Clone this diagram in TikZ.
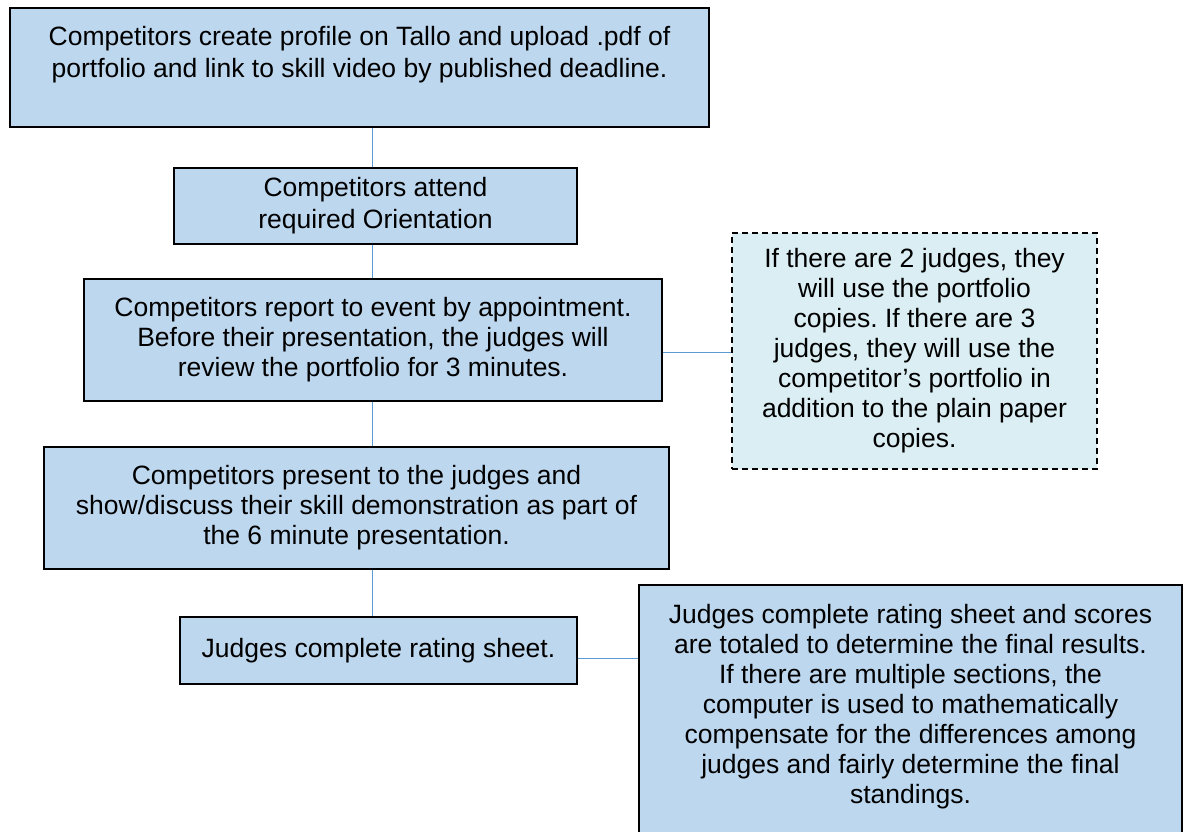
\documentclass[tikz,border=0pt]{standalone}
\usepackage{fontspec}
\setmainfont{Liberation Sans}
\frenchspacing
\definecolor{boxblue}{HTML}{BDD7EE}
\definecolor{noteblue}{HTML}{DAEEF3}
\definecolor{linkblue}{HTML}{5B9BD5}
\begin{document}
\begin{tikzpicture}
    [x=1pt,y=-1pt,
     stepbox/.style={shape=rectangle,draw=black,line width=1.3pt,fill=boxblue,align=center,inner sep=0pt,font=\fontsize{26.5}{30}\selectfont},
     notebox/.style={stepbox,fill=noteblue,dash pattern=on 6pt off 4pt},
     link/.style={draw=linkblue,line width=1pt}]
    \useasboundingbox (0,0) rectangle (1190,831);
    \node [stepbox,minimum width=699,minimum height=119,font=\fontsize{26.5}{32}\selectfont] (profile) at (359.5,67.5)
      {Competitors create profile on Tallo and upload .pdf of\\portfolio and link to skill video by published deadline.\\\mbox{}};
    \node [stepbox,minimum width=403,minimum height=76,font=\fontsize{26.5}{32}\selectfont] (orient) at (375.5,206)
      {Competitors attend\\required Orientation};
    \node [stepbox,minimum width=578,minimum height=122] (report) at (373,340)
      {Competitors report to event by appointment.\\Before their presentation, the judges will\\review the portfolio for 3 minutes.};
    \node [stepbox,minimum width=625,minimum height=122] (present) at (356.5,508)
      {Competitors present to the judges and\\show/discuss their skill demonstration as part of\\the 6 minute presentation.};
    \node [stepbox,minimum width=397,minimum height=67] (rating) at (378.5,650.5)
      {Judges complete rating sheet.};
    \node [notebox,minimum width=365,minimum height=236] (judgesnote) at (914.5,351)
      {If there are 2 judges, they\\will use the portfolio\\copies. If there are 3\\judges, they will use the\\competitor’s portfolio in\\addition to the plain paper\\copies.};
    \node [stepbox,minimum width=543,minimum height=255] (results) at (910.5,712.5)
      {Judges complete rating sheet and scores\\are totaled to determine the final results.\\If there are multiple sections, the\\computer is used to mathematically\\compensate for the differences among\\judges and fairly determine the final\\standings.\\[-12pt]\mbox{}};
    % connectors
    \coordinate (spine) at (372,0);
    \draw [link] (profile.south -| spine) -- (orient.north -| spine);
    \draw [link] (orient.south -| spine) -- (report.north -| spine);
    \draw [link] (report.south -| spine) -- (present.north -| spine);
    \draw [link] (present.south -| spine) -- (rating.north -| spine);
    \coordinate (noteline) at (0,352);
    \draw [link] (report.east |- noteline) -- (judgesnote.west |- noteline);
    \coordinate (resultline) at (0,658);
    \draw [link] (rating.east |- resultline) -- (results.west |- resultline);
\end{tikzpicture}
\end{document}
